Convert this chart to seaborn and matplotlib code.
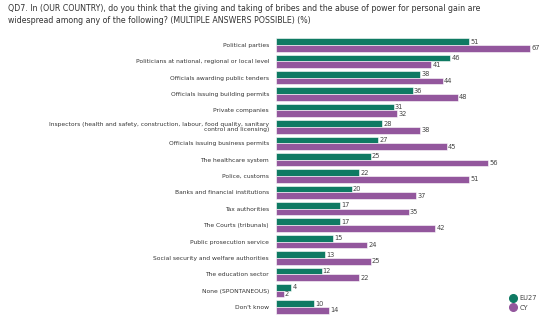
import matplotlib
matplotlib.use("Agg")
import matplotlib.pyplot as plt
import seaborn as sns
import pandas as pd
from matplotlib.lines import Line2D

categories = [
    "Political parties",
    "Politicians at national, regional or local level",
    "Officials awarding public tenders",
    "Officials issuing building permits",
    "Private companies",
    "Inspectors (health and safety, construction, labour, food quality, sanitary\ncontrol and licensing)",
    "Officials issuing business permits",
    "The healthcare system",
    "Police, customs",
    "Banks and financial institutions",
    "Tax authorities",
    "The Courts (tribunals)",
    "Public prosecution service",
    "Social security and welfare authorities",
    "The education sector",
    "None (SPONTANEOUS)",
    "Don't know",
]
eu27 = [51, 46, 38, 36, 31, 28, 27, 25, 22, 20, 17, 17, 15, 13, 12, 4, 10]
cy = [67, 41, 44, 48, 32, 38, 45, 56, 51, 37, 35, 42, 24, 25, 22, 2, 14]
series = ["EU27", "CY"]
colors = {"EU27": "#0f7a63", "CY": "#93579d"}

df = pd.DataFrame({
    "category": categories * 2,
    "value": eu27 + cy,
    "series": [series[0]] * len(categories) + [series[1]] * len(categories),
})

sns.set_theme(style="white")
plt.rcParams["font.family"] = ["DejaVu Sans"]

W, H = 549, 326
fig = plt.figure(figsize=(W / 100, H / 100), dpi=100)
ax = fig.add_axes([276 / W, 1 - 315.2 / H, 273 / W, (315.2 - 36.8) / H])

sns.barplot(data=df, y="category", x="value", hue="series", order=categories,
            hue_order=series, palette=colors, saturation=1, width=0.82, orient="h",
            edgecolor="white", linewidth=0.4, legend=False, ax=ax)

ax.set_xlim(0, 72)
ax.set_ylim(16.5, -0.5)
for c in ax.containers:
    ax.bar_label(c, fmt="%d", padding=0.8, fontsize=4.8, color="#444444")

ax.set_xlabel("")
ax.set_ylabel("")
ax.set_xticks([])
ax.tick_params(axis="y", length=0, pad=5, labelsize=4.3, labelcolor="#333333")
for lbl in ax.get_yticklabels():
    lbl.set_horizontalalignment("right")
    lbl.set_linespacing(1.0)
for s in ax.spines.values():
    s.set_visible(False)

fig.text(8 / W, 1 - 4 / H,
         "QD7. In (OUR COUNTRY), do you think that the giving and taking of bribes and the abuse of power for personal gain are\n"
         "widespread among any of the following? (MULTIPLE ANSWERS POSSIBLE) (%)",
         ha="left", va="top", fontsize=5.7, color="#333333", linespacing=1.45)

handles = [Line2D([], [], marker="o", linestyle="", markersize=5.5,
                  markerfacecolor=colors[s], markeredgecolor=colors[s], label=s)
           for s in series]
fig.legend(handles=handles, loc="center left", bbox_to_anchor=(506 / W, 1 - 303 / H),
           frameon=False, fontsize=4.8, handletextpad=0.3, labelspacing=0.5,
           labelcolor="#444444", borderpad=0, handlelength=1.2)

fig.savefig("out.png", dpi=100, facecolor="white")
